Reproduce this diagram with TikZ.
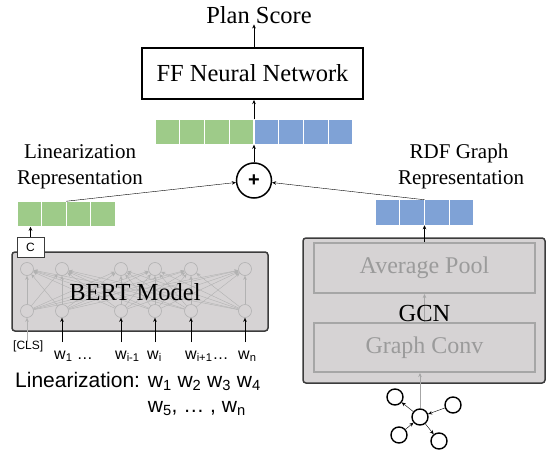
\documentclass[tikz,border=0pt]{standalone}
\usepackage{fontspec}
\setmainfont{Liberation Serif}
\setsansfont{Liberation Sans}
\usetikzlibrary{arrows.meta,positioning}
\definecolor{cellgreen}{RGB}{158,203,137}
\definecolor{cellblue}{RGB}{127,162,214}
\definecolor{modelfill}{RGB}{214,211,212}
\definecolor{modeledge}{RGB}{60,60,60}
\definecolor{layeredge}{RGB}{166,166,166}
\definecolor{layertext}{RGB}{155,155,155}
\definecolor{unitedge}{RGB}{178,178,178}
\begin{document}
\begin{tikzpicture}
[x=1pt,y=-1pt,
 >={Stealth[length=4pt,width=3.5pt]},
 big text/.style={font=\fontsize{24.5}{29}\selectfont},
 label text/.style={font=\fontsize{21}{25}\selectfont},
 cell/.style={draw=white,line width=1.2pt,minimum width=24.75pt,minimum height=25.5pt,inner sep=0pt,outer sep=0pt},
 model box/.style={draw=modeledge,line width=1.5pt,fill=modelfill,rounded corners=3pt,inner sep=0pt,outer sep=0pt},
 layer box/.style={draw=layeredge,line width=2pt,minimum width=221pt,inner sep=0pt,text=layertext,font=\fontsize{24}{29}\selectfont},
 unit/.style={circle,draw=unitedge,line width=0.6pt,minimum size=13pt,inner sep=0pt},
 vertex/.style={circle,draw,line width=1.4pt,minimum size=16pt,inner sep=0pt},
 word/.style={anchor=base west,inner sep=0pt,font=\sffamily\fontsize{16}{19}\selectfont}]
\useasboundingbox (0,0) rectangle (546,452);

% output side
\node[big text,anchor=base,inner sep=0pt] (score) at (259,24) {Plan Score};
\node[draw,line width=2pt,minimum width=221pt,minimum height=51pt,big text] (ff) at (252.5,73.5) {FF Neural Network};
\foreach \i in {1,...,4}
  \node[cell,fill=cellgreen] (cat\i) at ({155+24.75*(\i-0.5)},132) {};
\foreach \i in {5,...,8}
  \node[cell,fill=cellblue] (cat\i) at ({155+24.75*(\i-0.5)},132) {};
\node[circle,draw,line width=1.5pt,minimum size=35pt,inner sep=0pt,font=\sffamily\bfseries\fontsize{20}{24}\selectfont] (plus) at (254,180.5) {+};
\draw[->] (cat4.north east |- ff.north) -- (cat4.north east |- score.south);
\draw[->] (cat4.north east) -- (cat4.north east |- ff.south);
\draw[->] (plus) -- (cat4.south east);

% the two representations
\node[label text,anchor=base] (linrep a) at (80,158) {Linearization};
\node[label text,anchor=base] (linrep b) at (80,184) {Representation};
\node[label text,anchor=base] (rdfrep a) at (459,158) {RDF Graph};
\node[label text,anchor=base] (rdfrep b) at (461,184) {Representation};
\foreach \i in {1,...,4}
  \node[cell,fill=cellgreen,minimum width=24.6pt] (lin\i) at ({17+24.6*(\i-0.5)},214) {};
\foreach \i in {1,...,4}
  \node[cell,fill=cellblue] (rdf\i) at ({375+24.75*(\i-0.5)},212.5) {};
\draw[->] (lin2.north east) -- (plus);
\draw[->] (rdf2.north east) -- (plus);

% BERT
\node[model box,minimum width=256pt,minimum height=79pt] (bert) at (140,291.5) {};
\foreach \i/\x in {1/27,2/62,3/121,4/155,5/191,6/245} {
  \node[unit] (top\i) at (\x,269) {};
  \node[unit] (bot\i) at (\x,311) {};
  \coordinate (in\i) at (\x,342);
}
\foreach \i in {1,...,6}
  \foreach \j in {1,...,6}
    \draw[->,unitedge,line width=0.4pt] (bot\i) -- (top\j);
\node[big text] (bert label) at (135,292) {BERT Model};
\node[draw=modeledge,fill=white,line width=1pt,minimum width=27pt,minimum height=20pt,inner sep=0pt,font=\sffamily\fontsize{12}{14}\selectfont] (cls vec) at (30.5,247) {C};
\draw[->] (cls vec.north) -- (cls vec.north |- lin1.south);
\draw[->,unitedge] (in1) -- (bot1);
\foreach \i in {2,...,6}
  \draw[->] (in\i) -- (bot\i);
\node[word,font=\sffamily\fontsize{12}{14}\selectfont] (cls) at (13,349) {[CLS]};
\node[word] (w1) at (54,359) {w\textsubscript{1} \dots};
\node[word] (wim) at (115,359) {w\textsubscript{i-1}};
\node[word] (wi) at (147,359) {w\textsubscript{i}};
\node[word] (wip) at (185,359) {w\textsubscript{i+1}\dots};
\node[word] (wn) at (238,359) {w\textsubscript{n}};
\node[anchor=base west,inner sep=0pt,font=\sffamily\fontsize{21}{25}\selectfont] (sentence) at (15,387)
  {\begin{tabular}[t]{@{}l@{ }l@{}}Linearization: & w\textsubscript{1} w\textsubscript{2} w\textsubscript{3} w\textsubscript{4}\\
   & w\textsubscript{5}, \dots\ , w\textsubscript{n}\end{tabular}};

% GCN
\node[model box,minimum width=242pt,minimum height=145pt] (gcn) at (424,310.5) {};
\node[layer box,minimum height=50pt] (pool) at (424.5,268) {Average Pool};
\node[layer box,minimum height=49pt] (conv) at (424.5,347.5) {Graph Conv};
\draw[->,layeredge,line width=0.6pt] (conv) -- (pool);
\node[big text,anchor=base,inner sep=0pt] (gcn label) at (424.5,321) {GCN};
\draw[->] (pool.north -| rdf2.south east) -- (rdf2.south east);

% input graph
\node[vertex] (g0) at (420,417) {};
\node[vertex] (g1) at (395,397) {};
\node[vertex] (g2) at (453,405) {};
\node[vertex] (g3) at (399,435) {};
\node[vertex] (g4) at (439,441) {};
\draw[->] (g0) -- (g1);
\draw[->] (g2) -- (g0);
\draw[->] (g3) -- (g0);
\draw[->] (g0) -- (g4);
\draw[->,layeredge,line width=0.6pt] (g0.north) -- (g0.north |- conv.south);
\end{tikzpicture}
\end{document}
